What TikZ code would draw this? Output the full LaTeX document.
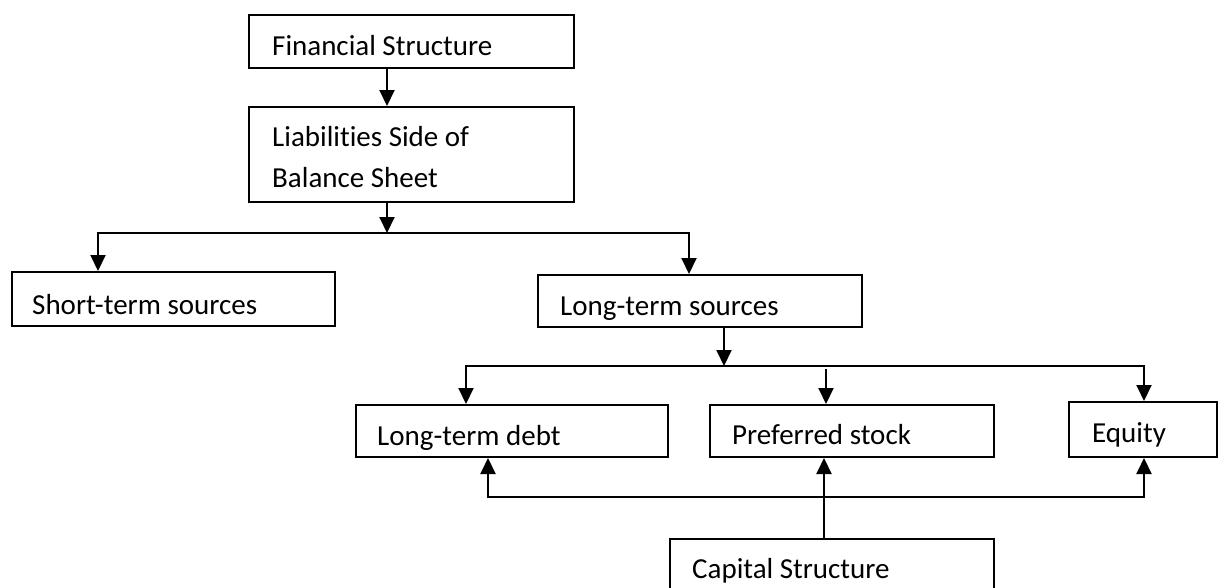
\documentclass[tikz,border=0pt]{standalone}
\usepackage{fontspec}
\setmainfont{Carlito}[RawFeature={-liga;-clig;-calt;-dlig}]
\usetikzlibrary{arrows.meta}
\begin{document}
\begin{tikzpicture}[x=1pt,y=-1pt,
  box/.style={draw=black, line width=2pt, inner sep=0pt, minimum width=#1},
  txt/.style={inner sep=0pt, anchor=base west, font=\fontsize{29}{41}\selectfont},
  conn/.style={line width=2pt, line join=miter},
  arr/.style={conn, -{Triangle[length=16pt,width=15pt]}}]
\clip (0,0) rectangle (1224,587);
\fill[white] (0,0) rectangle (1224,587);
% boxes
\node[box=325pt, minimum height=53pt] (fin)   at (411.5,41.5) {};
\node[box=325pt, minimum height=95pt] (liab)  at (411.5,154.5) {};
\node[box=323pt, minimum height=54pt] (short) at (173.5,299) {};
\node[box=324pt, minimum height=52pt] (long)  at (700,301) {};
\node[box=312pt, minimum height=52pt] (ltd)   at (512,431) {};
\node[box=284pt, minimum height=52pt] (pref)  at (852,431) {};
\node[box=148pt, minimum height=55pt] (eq)    at (1143,429.5) {};
\node[box=324pt, minimum height=82pt] (cap)   at (832,580) {};
% texts
\node[txt] (tfin)   at (272,55)  {Financial Structure};
\node[txt, align=left] (tliab) at (272,187) {Liabilities Side of\\Balance Sheet};
\node[txt] (tshort) at (32,314)  {Short-term sources};
\node[txt] (tlong)  at (560,315) {Long-term sources};
\node[txt] (tltd)   at (377,445) {Long-term debt};
\node[txt] (tpref)  at (732,444) {Preferred stock};
\node[txt] (teq)    at (1092,442) {Equity};
\node[txt] (tcap)   at (692,578) {Capital Structure};
% junctions
\coordinate (j1) at (387,233);
\coordinate (L1) at (98,233);
\coordinate (R1) at (689,233);
\coordinate (j2) at (724,366);
\coordinate (L2) at (466,366);
\coordinate (R2) at (1144,366);
\coordinate (P2) at (826,369);
\coordinate (c3) at (824,497);
\coordinate (L3) at (488,497);
\coordinate (R3) at (1144,497);
% connectors
\draw[arr] (fin.south -| j1) -- (liab.north -| j1);
\draw[arr] (liab.south -| j1) -- (j1);
\draw[arr] (j1) -- (L1) -- (L1 |- short.north);
\draw[arr] (j1) -- (R1) -- (R1 |- long.north);
\draw[arr] (long.south -| j2) -- (j2);
\draw[arr] (j2) -- (L2) -- (L2 |- ltd.north);
\draw[arr] (j2) -- (R2) -- (R2 |- eq.north);
\draw[arr] (P2) -- (P2 |- pref.north);
\draw[arr] (cap.north -| c3) -- (pref.south -| c3);
\draw[arr] (c3) -- (L3) -- (L3 |- ltd.south);
\draw[arr] (c3) -- (R3) -- (R3 |- eq.south);
\end{tikzpicture}
\end{document}
